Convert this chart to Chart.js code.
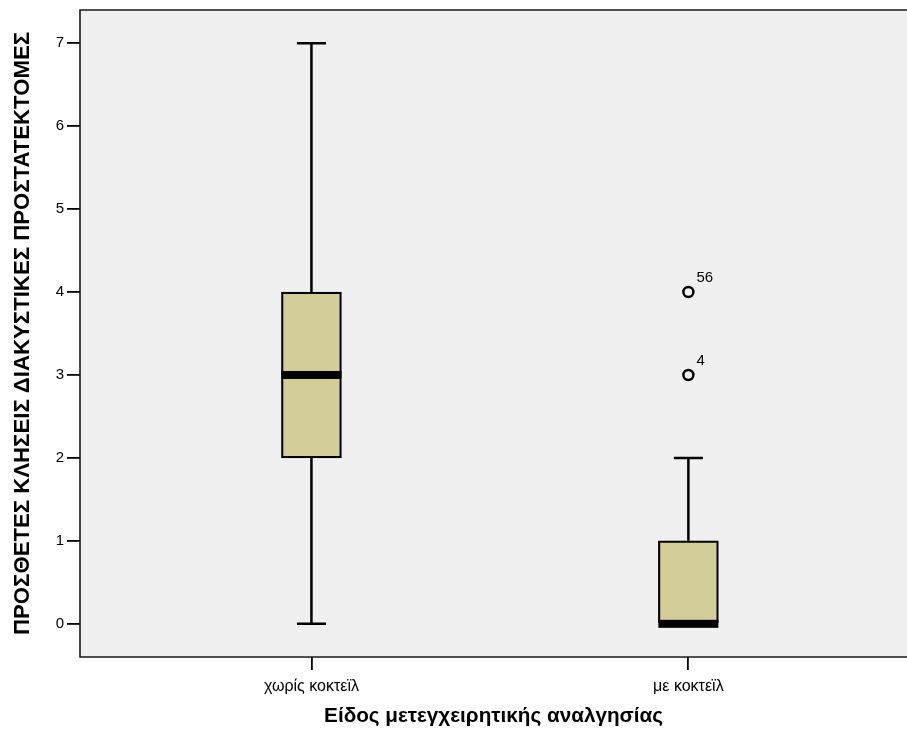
<!DOCTYPE html>
<html>
<head>
<meta charset="utf-8">
<script src="https://cdn.jsdelivr.net/npm/chart.js@4.4.1/dist/chart.umd.min.js"></script>
<style>
html,body{margin:0;padding:0;background:#fff;overflow:hidden;}
#wrap{width:907px;height:733px;}
</style>
</head>
<body>
<div id="wrap"><canvas id="c" width="907" height="733"></canvas></div>
<script>
// ---- data ----
const categories = ['χωρίς κοκτεϊλ', 'με κοκτεϊλ'];
const categoryPositions = [1, 2];
const whiskerLow = [0, 0];
const q1 = [2, 0];
const median = [3, 0];
const q3 = [4, 1];
const whiskerHigh = [7, 2];
const outlierCategory = [2, 2];
const outlierValues = [4, 3];
const outlierCases = ['56', '4'];
const yTicks = [0, 1, 2, 3, 4, 5, 6, 7];
const yTitle = 'ΠΡΟΣΘΕΤΕΣ ΚΛΗΣΕΙΣ ΔΙΑΚΥΣΤΙΚΕΣ ΠΡΟΣΤΑΤΕΚΤΟΜΕΣ';
const xTitle = 'Είδος μετεγχειρητικής αναλγησίας';

// ---- styles ----
const FONT = 'Arial, "Liberation Sans", sans-serif';
const BOX_FILL = '#D3CE98';
const PLOT_BG = '#F0F0F0';
const BOX_PX = 60;

const boxData = categoryPositions.map((x, i) => ({x: x, y: [q1[i], q3[i]]}));
const outlierData = outlierValues.map((v, i) => ({x: outlierCategory[i], y: v}));

const boxPlugin = {
  id: 'boxPlugin',
  beforeDraw(chart) {
    const {ctx, chartArea: a} = chart;
    ctx.save();
    ctx.fillStyle = PLOT_BG;
    ctx.fillRect(a.left, a.top, a.right - a.left, a.bottom - a.top);
    ctx.restore();
  },
  afterDatasetsDraw(chart) {
    const {ctx, chartArea: a, scales: {x, y}} = chart;
    ctx.save();
    ctx.strokeStyle = '#000';
    ctx.lineCap = 'butt';
    categoryPositions.forEach((c, i) => {
      const cx = x.getPixelForValue(c);
      const half = BOX_PX / 2;
      const capHalf = 14.5;
      ctx.lineWidth = 2.5;
      if (whiskerHigh[i] > q3[i]) {
        const yT = y.getPixelForValue(whiskerHigh[i]);
        const yB = y.getPixelForValue(q3[i]);
        ctx.beginPath();
        ctx.moveTo(cx, yB); ctx.lineTo(cx, yT);
        ctx.moveTo(cx - capHalf, yT); ctx.lineTo(cx + capHalf, yT);
        ctx.stroke();
      }
      if (whiskerLow[i] < q1[i]) {
        const yT = y.getPixelForValue(q1[i]);
        const yB = y.getPixelForValue(whiskerLow[i]);
        ctx.beginPath();
        ctx.moveTo(cx, yT); ctx.lineTo(cx, yB);
        ctx.moveTo(cx - capHalf, yB); ctx.lineTo(cx + capHalf, yB);
        ctx.stroke();
      }
      const ym = y.getPixelForValue(median[i]);
      ctx.fillStyle = '#000';
      ctx.fillRect(cx - half, ym - 4, BOX_PX, 8);
    });
    ctx.fillStyle = '#000';
    ctx.font = '15px ' + FONT;
    ctx.textAlign = 'left';
    ctx.textBaseline = 'alphabetic';
    outlierValues.forEach((v, i) => {
      const px = x.getPixelForValue(outlierCategory[i]);
      const py = y.getPixelForValue(v);
      ctx.fillText(outlierCases[i], px + 8, py - 10);
    });
    ctx.strokeStyle = '#1a1a1a';
    ctx.lineWidth = 1.6;
    ctx.beginPath();
    ctx.moveTo(a.right + 2, a.top); ctx.lineTo(a.left, a.top);
    ctx.lineTo(a.left, a.bottom); ctx.lineTo(a.right + 2, a.bottom);
    ctx.stroke();
    ctx.restore();
  }
};

new Chart(document.getElementById('c'), {
  data: {
    datasets: [
      {
        type: 'bar',
        data: boxData,
        backgroundColor: BOX_FILL,
        borderColor: '#000',
        borderWidth: 2.2,
        borderSkipped: false,
        barThickness: BOX_PX,
        order: 2
      },
      {
        type: 'scatter',
        data: outlierData,
        pointStyle: 'circle',
        pointRadius: 5,
        pointHoverRadius: 5,
        pointBorderWidth: 2.5,
        pointBorderColor: '#000',
        pointBackgroundColor: 'rgba(0,0,0,0)',
        order: 1
      }
    ]
  },
  options: {
    responsive: false,
    animation: false,
    events: [],
    layout: {autoPadding: false, padding: {top: 10, left: 0, right: 0, bottom: 0}},
    plugins: {legend: {display: false}, tooltip: {enabled: false}},
    scales: {
      x: {
        type: 'linear',
        min: 0.386,
        max: 2.58,
        offset: false,
        afterBuildTicks: s => { s.ticks = categoryPositions.map(v => ({value: v})); },
        afterFit: s => { s.height = 76; s.paddingLeft = 0; s.paddingRight = 0; },
        border: {display: false},
        grid: {offset: false, drawOnChartArea: false, drawTicks: true, tickLength: 13, color: '#000', lineWidth: 1.8},
        ticks: {
          autoSkip: false, maxRotation: 0, padding: 7,
          color: '#000', font: {family: FONT, size: 16},
          callback: v => categories[categoryPositions.indexOf(v)]
        },
        title: {
          display: true, text: xTitle, color: '#000',
          font: {family: FONT, size: 20.7, weight: 'bold'},
          padding: {top: 0, bottom: 4}
        }
      },
      y: {
        type: 'linear',
        min: -0.4,
        max: 7.4,
        afterBuildTicks: s => { s.ticks = yTicks.map(v => ({value: v})); },
        afterFit: s => { s.width = 80; s.paddingTop = 0; s.paddingBottom = 0; },
        border: {display: false},
        grid: {drawOnChartArea: false, drawTicks: true, tickLength: 13, color: '#000', lineWidth: 1.8},
        ticks: {
          padding: 3, color: '#000', font: {family: FONT, size: 15}
        },
        title: {
          display: true, text: yTitle, color: '#000',
          font: {family: FONT, size: 22.2, weight: 'bold'},
          padding: {top: 10, bottom: 0}
        }
      }
    }
  },
  plugins: [boxPlugin]
});
</script>
</body>
</html>
